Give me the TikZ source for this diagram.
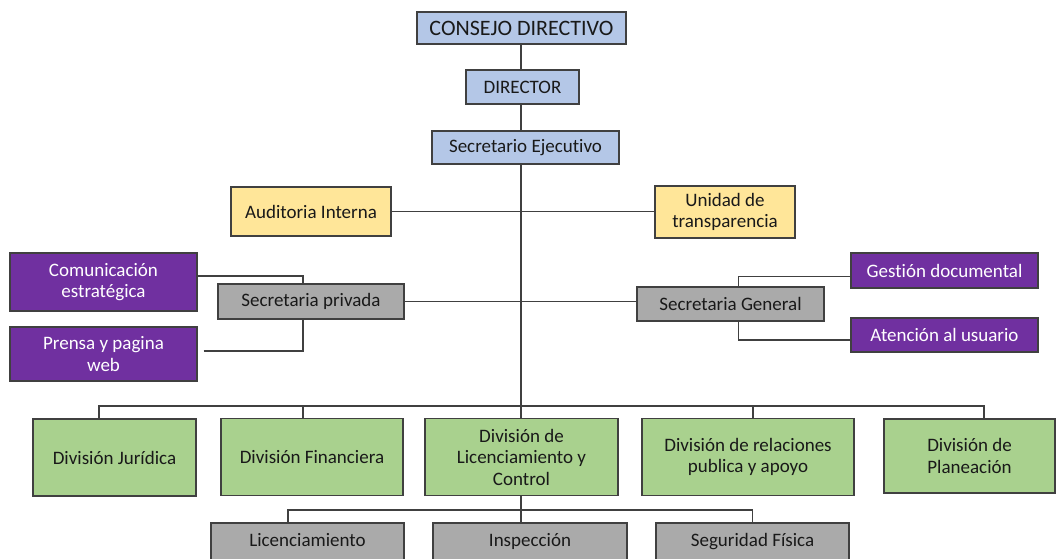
\documentclass[tikz,border=0pt]{standalone}
\usepackage{fontspec}
\setmainfont{Carlito}[Ligatures=NoCommon]
\usetikzlibrary{positioning}
\definecolor{azulcaja}{RGB}{180,199,231}
\definecolor{amarillocaja}{RGB}{255,230,153}
\definecolor{moradocaja}{RGB}{112,48,160}
\definecolor{griscaja}{RGB}{170,170,170}
\definecolor{verdecaja}{RGB}{169,209,142}
\definecolor{borde}{RGB}{64,64,64}
\definecolor{texto}{RGB}{25,25,25}

\begin{document}
\begin{tikzpicture}[x=1pt,y=-1pt,
  caja/.style={rectangle,draw=borde,line width=1.2pt,text=texto,align=center,inner sep=2pt,
    font=\fontsize{19}{21.5}\selectfont},
  azul/.style={caja,fill=azulcaja},
  amarillo/.style={caja,fill=amarillocaja},
  morado/.style={caja,fill=moradocaja,text=white},
  gris/.style={caja,fill=griscaja},
  verde/.style={caja,fill=verdecaja},
  area/.style={gris,text height=13pt,text depth=4pt},
  linea/.style={draw=borde,line width=1.1pt}]
\useasboundingbox (0,0) rectangle (1060,558);
\clip (0,0) rectangle (1060,558);

\node[azul,minimum width=209pt,minimum height=32pt,font=\fontsize{22}{26}\selectfont] (consejo) at (521.5,28) {CONSEJO DIRECTIVO};
\node[azul,minimum width=113pt,minimum height=34pt] (director) at (522.5,87) {DIRECTOR};
\node[azul,minimum width=187pt,minimum height=33pt] (secej) at (525.5,147.5) {Secretario Ejecutivo};

\node[amarillo,minimum width=160pt,minimum height=49pt] (auditoria) at (311,211.5) {Auditoria Interna};
\node[amarillo,minimum width=140pt,minimum height=52pt] (unidad) at (725,212) {Unidad de\\transparencia};

\node[morado,minimum width=187pt,minimum height=58pt] (comunic) at (103.5,282) {Comunicación\\estratégica};
\node[morado,minimum width=187pt,minimum height=54pt] (prensa) at (103.5,354) {Prensa y pagina\\web};
\node[gris,minimum width=186pt,minimum height=35pt] (secpriv) at (311,301.5) {Secretaria privada};

\node[gris,minimum width=187pt,minimum height=34pt] (secgen) at (730.5,304) {Secretaria General};
\node[morado,minimum width=187pt,minimum height=35pt] (gestion) at (944.5,270.5) {Gestión documental};
\node[morado,minimum width=187pt,minimum height=34pt] (atencion) at (944.5,335) {Atención al usuario};

\node[verde,minimum width=163pt,minimum height=77pt] (juridica) at (114.5,457.5) {División Jurídica};
\node[verde,minimum width=182pt,minimum height=77pt] (financiera) at (312,457) {División Financiera};
\node[verde,minimum width=193pt,minimum height=77pt] (licctrl) at (521.5,457) {División de\\Licenciamiento y\\Control};
\node[verde,minimum width=212pt,minimum height=77pt] (relaciones) at (748,457) {División de relaciones\\publica y apoyo};
\node[verde,minimum width=171pt,minimum height=74pt] (planeacion) at (969.5,456) {División de\\Planeación};

\node[area,minimum width=193pt,minimum height=38pt] (licenc) at (307.5,542) {Licenciamiento};
\node[area,minimum width=194pt,minimum height=38pt] (inspeccion) at (530,542) {Inspección};
\node[area,minimum width=193pt,minimum height=38pt] (seguridad) at (752.5,542) {Seguridad Física};

\coordinate (bus) at (521,406);
\coordinate (subbus) at (521,510);

% linea de mando
\draw[linea] (consejo.south -| bus) -- (director.north -| bus);
\draw[linea] (director.south -| bus) -- (secej.north -| bus);
\draw[linea] (secej.south -| bus) -- (bus);
\draw[linea] (auditoria.east) -- (unidad.west |- auditoria.east);
\draw[linea] (secpriv.east) -- (secgen.west |- secpriv.east);

% secretarias
\draw[linea] ([yshift=6pt]comunic.east) -| ([xshift=-8pt]secpriv.north);
\draw[linea] ([xshift=6pt,yshift=3pt]prensa.east) -| ([xshift=-8pt]secpriv.south);
\draw[linea] ([xshift=8pt]secgen.north) |- ([yshift=-6pt]gestion.west);
\draw[linea] ([xshift=8pt]secgen.south) |- ([yshift=-5pt]atencion.west);

% divisiones
\draw[linea] ([xshift=-15.5pt]juridica.north) |- (bus) -| ([xshift=14.5pt]planeacion.north);
\draw[linea] ([xshift=-9pt]financiera.north) -- ([xshift=-9pt]financiera.north |- bus);
\draw[linea] (licctrl.north -| bus) -- (bus);
\draw[linea] ([xshift=5pt]relaciones.north) -- ([xshift=5pt]relaciones.north |- bus);

\draw[linea] (licctrl.south -| subbus) -- (subbus);
\draw[linea] ([xshift=-19.5pt]licenc.north) |- (subbus) -| (seguridad.north);
\draw[linea] (inspeccion.north -| subbus) -- (subbus);

\end{tikzpicture}
\end{document}
